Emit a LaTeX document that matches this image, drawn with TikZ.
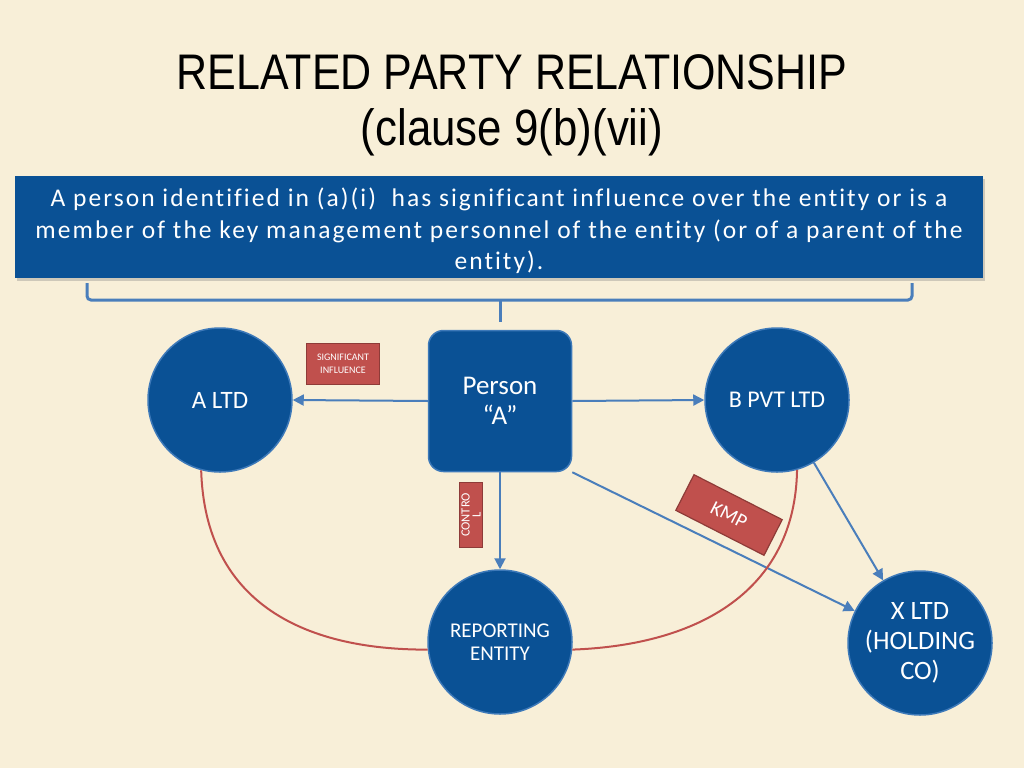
\documentclass[tikz,border=0pt]{standalone}
\usepackage{fontspec}
\setmainfont[Ligatures=NoCommon]{Carlito}
\newfontfamily\titlefont[FakeStretch=0.86]{Liberation Sans}
\newfontfamily\rulefont[Ligatures=NoCommon,LetterSpace=8]{Carlito}
\usetikzlibrary{arrows.meta,shadows}

\definecolor{paper}{HTML}{F8EFD8}
\definecolor{deepblue}{HTML}{0A5195}
\definecolor{rimblue}{HTML}{3D79B9}
\definecolor{linkblue}{HTML}{4A7EBB}
\definecolor{tagred}{HTML}{C0504D}
\definecolor{tagrim}{HTML}{8E3B38}

\begin{document}
\begin{tikzpicture}[x=1pt,y=-1pt,
    entity/.style={circle,draw=rimblue,line width=1.5pt,fill=deepblue,text=white,
      minimum size=144pt,inner sep=0pt,align=center,font=\fontsize{24}{28}\selectfont},
    tag/.style={draw=tagrim,line width=1.2pt,fill=tagred,text=white,inner sep=1pt,align=center},
    link/.style={draw=linkblue,line width=2pt,-{Triangle[length=11pt,width=11pt]}},
    tie/.style={draw=tagred,line width=2pt}]

      \fill [paper] (0,0) rectangle (1024,768);
      \useasboundingbox (0,0) rectangle (1024,768);

      \node (title) at (512,72) {\titlefont\fontsize{50}{50}\selectfont RELATED PARTY RELATIONSHIP};
      \node (clause) at (512,132) {\titlefont\fontsize{51}{51}\selectfont (clause 9(b)(vii)};

      \node[fill=deepblue,minimum width=968pt,minimum height=102pt,
        drop shadow={opacity=0.35,shadow xshift=2pt,shadow yshift=-3pt}] (rule) at (499,227) {};
      \node[text=white,align=center,font=\rulefont\fontsize{25.5}{31.5}\selectfont] (ruletext) at (499,231)
        {A person identified in (a)(i)\ \ has significant influence over the entity or is a\\
        member of the key management personnel of the entity (or of a parent of the\\
        entity).};

      \draw[linkblue,line width=3pt,rounded corners=4pt] (87,283) -- (87,300) -- (912,300) -- (912,283);
      \draw[linkblue,line width=3pt] (500,300) -- (500,322);

      \node[rectangle,rounded corners=15pt,draw=rimblue,line width=1.5pt,fill=deepblue,text=white,
        minimum width=143pt,minimum height=141pt,align=center,font=\fontsize{27}{30}\selectfont]
        (person) at (500,401) {Person\\``A''};
      \node[entity,font=\fontsize{25}{28}\selectfont] (altd) at (220,400) {A LTD};
      \node[entity] (bpvt) at (777,400) {B PVT LTD};
      \node[entity,font=\fontsize{21}{23}\selectfont] (report) at (500,642) {REPORTING\\ENTITY};
      \node[entity,font=\fontsize{26.5}{30}\selectfont] (xltd) at (920,643) {X LTD\\(HOLDING\\CO)};

      \draw[link] (person.west) -- (altd.east);
      \draw[link] (person.east) -- (bpvt.west);
      \draw[link] (person.south) -- (report.north);
      \draw[link] (person.south east) -- (xltd);
      \draw[link] (bpvt) -- (xltd);

      \draw[tie] (altd.255) .. controls (205,600) and (300,650) .. (report.186);
      \draw[tie] (bpvt.286) .. controls (795,590) and (700,645) .. (report.354);

      \node[tag,minimum width=73pt,minimum height=41pt,font=\fontsize{10}{13}\selectfont]
        (sigtag) at (343,364) {SIGNIFICANT\\INFLUENCE};
      \node[tag,rotate=90,minimum width=65pt,minimum height=23pt,font=\fontsize{12.5}{11}\selectfont]
        (ctrltag) at (471,515) {CONTRO\\L};
      \node[tag,rotate=-27,minimum width=99pt,minimum height=40pt,font=\fontsize{20}{20}\selectfont]
        (kmptag) at (729,515) {KMP};

    \end{tikzpicture}
\end{document}
